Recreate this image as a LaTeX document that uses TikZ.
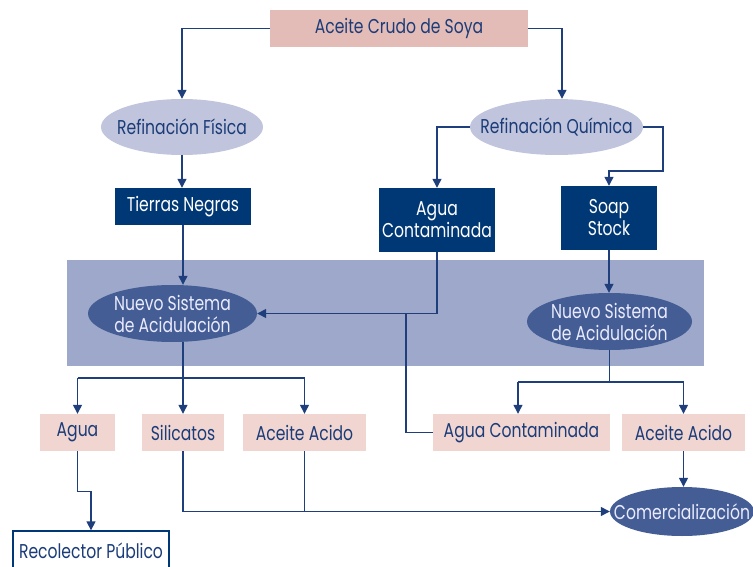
\documentclass[tikz,border=0pt]{standalone}
\usepackage{fontspec}
\setmainfont[FakeStretch=0.78]{Poppins}
\usetikzlibrary{arrows.meta,shapes.geometric}
\definecolor{toppink}{HTML}{E4BCB7}
\definecolor{lightpink}{HTML}{F0D5D1}
\definecolor{lightell}{HTML}{C0C5DD}
\definecolor{navy}{HTML}{003876}
\definecolor{band}{HTML}{9EA8CA}
\definecolor{darkell}{HTML}{445E95}
\definecolor{txt}{HTML}{1B3C78}
\definecolor{linec}{HTML}{1E3F7C}
\tikzset{
  base/.style={inner sep=0pt, align=center, font=\fontsize{20}{22}\selectfont},
  pinkbox/.style={base, rectangle, fill=lightpink, text=txt},
  topbox/.style={base, rectangle, fill=toppink, text=txt},
  navybox/.style={base, rectangle, fill=navy, text=white},
  lell/.style={base, ellipse, fill=lightell},
  dell/.style={base, ellipse, fill=darkell},
  ltext/.style={base, text=txt},
  dtext/.style={base, text=white!92!blue},
  wbox/.style={base, rectangle, draw=navy, line width=1.3pt, fill=white, text=txt},
  conn/.style={draw=linec, line width=1.3pt},
  arr/.style={conn, -{Triangle[length=9pt,width=9pt]}},
}
\begin{document}
\begin{tikzpicture}[x=1pt,y=-1pt]
\useasboundingbox (0,0) rectangle (753,567);
\fill[band] (67,260) rectangle (704,366);
\node[topbox, minimum width=258, minimum height=37] (top) at (399,28.5) {Aceite Crudo de Soya};
\node[lell, minimum width=162, minimum height=56] (fis) at (182,127) {};
\node[ltext] (fist) at (fis.center) {Refinación Física};
\node[lell, minimum width=173, minimum height=56] (qui) at (556.5,127) {};
\node[ltext] (quit) at (qui.center) {Refinación Química};
\node[navybox, minimum width=136, minimum height=37] (tie) at (183,206.5) {Tierras Negras};
\node[navybox, minimum width=116, minimum height=64] (agc) at (437,220) {Agua\\Contaminada};
\node[navybox, minimum width=96, minimum height=64] (soap) at (609,218) {Soap\\Stock};
\node[dell, minimum width=169, minimum height=57] (nsl) at (172.5,313.5) {};
\node[dtext] (nslt) at (nsl.center) {Nuevo Sistema\\de Acidulación};
\node[dell, minimum width=165, minimum height=57] (nsr) at (609.5,321.5) {};
\node[dtext] (nsrt) at (nsr.center) {Nuevo Sistema\\de Acidulación};
\node[pinkbox, minimum width=75, minimum height=37] (agua) at (77.5,432.5) {Agua};
\node[pinkbox, minimum width=82, minimum height=37] (sil) at (183,432.5) {Silicatos};
\node[pinkbox, minimum width=123, minimum height=37] (acl) at (304.5,432.5) {Aceite Acido};
\node[pinkbox, minimum width=177, minimum height=37] (agp) at (521.5,432.5) {Agua Contaminada};
\node[pinkbox, minimum width=123, minimum height=37] (acr) at (683.5,432.5) {Aceite Acido};
\node[dell, minimum width=144, minimum height=49] (com) at (682,511.5) {};
\node[dtext] (comt) at (com.center) {Comercialización};
\node[wbox, minimum width=156, minimum height=44] (rec) at (91,553) {};
\node[ltext] (rect) at (91,551) {Recolector Público};
\coordinate (busl) at (0,378);
\coordinate (busr) at (0,382);
\coordinate (jn) at (406,313.5);
\coordinate (qk) at (663,171);
\coordinate (agpin) at ([xshift=-3.5]agp.north);
\coordinate (quiin) at ([xshift=5.5]qui.north);
% connectors
\draw[arr] (top.west) -| (fis.north);
\draw[arr] (top.east) -| (quiin);
\draw[arr] (fis.south) -- (fis.south |- tie.north);
\draw[arr] (qui.west) -| (agc.north);
\draw[arr] (qui.east) -| (qk) -| (soap.north);
\draw[arr] (tie.south) -- (tie.south |- nsl.north);
\draw[arr] (agc.south) |- (nsl.east);
\draw[conn] (agp.west) -| (jn);
\draw[arr] (soap.south) -- (soap.south |- nsr.north);
\draw[conn] (sil.north |- nsl.south) -- (sil.north |- busl);
\draw[conn] (busl -| agua.north) -- (busl -| acl.north);
\draw[arr] (busl -| agua.north) -- (agua.north);
\draw[arr] (busl -| sil.north) -- (sil.north);
\draw[arr] (busl -| acl.north) -- (acl.north);
\draw[conn] (nsr.south) -- (nsr.south |- busr);
\draw[conn] (busr -| agpin) -- (busr -| acr.north);
\draw[arr] (busr -| agpin) -- (agpin);
\draw[arr] (busr -| acr.north) -- (acr.north);
\draw[arr] (acr.south) -- (acr.south |- com.north);
\draw[arr] (sil.south) |- (com.west);
\draw[conn] (acl.south) -- (acl.south |- com.west);
\draw[arr] (agua.south) -- ++(0,40) -| (rec.north);
\end{tikzpicture}
\end{document}
